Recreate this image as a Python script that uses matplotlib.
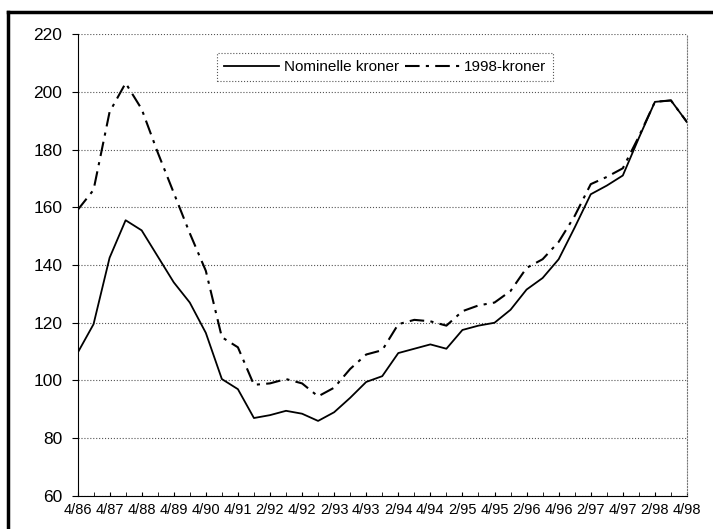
import matplotlib
matplotlib.use("Agg")
import matplotlib.pyplot as plt
from matplotlib.lines import Line2D

plt.rcParams['font.family'] = ['Liberation Sans', 'DejaVu Sans']

# periods: half-yearly up to 4/91, quarterly from 1/92
periods = ["4/86", "2/87", "4/87", "2/88", "4/88", "2/89", "4/89", "2/90", "4/90",
           "2/91", "4/91",
           "1/92", "2/92", "3/92", "4/92", "1/93", "2/93", "3/93", "4/93",
           "1/94", "2/94", "3/94", "4/94", "1/95", "2/95", "3/95", "4/95",
           "1/96", "2/96", "3/96", "4/96", "1/97", "2/97", "3/97", "4/97",
           "1/98", "2/98", "3/98", "4/98"]

nominelle = [109.5, 119.5, 142.5, 155.5, 152, 143, 134, 127, 116.5, 100.5, 97,
             87, 88, 89.5, 88.5, 86, 89, 94, 99.5, 101.5, 109.5, 111, 112.5, 111,
             117.5, 119, 120, 124.5, 131.5, 135.5, 142, 153, 164.5, 167.5, 171,
             184, 196.5, 197, 189.5]

kroner98 = [159, 166, 193, 203, 194, 179, 165, 151, 138, 115, 111.5,
            98.5, 99, 100.5, 99, 94.5, 97.5, 104, 109, 110.5, 119.5, 121, 120.5, 119,
            124, 126, 127, 131, 139, 142, 148, 157, 168, 170.5, 173.5,
            184.5, 196.5, 197, 189.5]

labels = ["Nominelle kroner", "1998-kroner"]

fig = plt.figure(figsize=(7.13, 5.29), dpi=100)
ax = fig.add_axes([0.1087, 0.0624, 0.8548, 0.8733])

x = list(range(len(periods)))
ax.plot(x, nominelle, color="black", lw=1.3, label=labels[0])
ax.plot(x, kroner98, color="black", lw=1.5, linestyle=(0, (7, 3, 1.5, 3)), label=labels[1])

ax.set_xlim(0, len(periods) - 1)
ax.set_ylim(60, 220)
ax.set_yticks(range(60, 221, 20))
ax.tick_params(axis="y", labelsize=12.5, length=4, direction="out", pad=7)

major = x[::2]
ax.set_xticks(major)
ax.set_xticklabels([periods[i] for i in major], fontsize=10.5)
ax.set_xticks(x, minor=True)
ax.tick_params(axis="x", which="both", length=3, direction="in", pad=5)

ax.grid(axis="y", color="#555555", linestyle=":", lw=0.8)
ax.spines["top"].set_visible(False)
ax.spines["right"].set_linestyle(":")
ax.spines["right"].set_color("#777777")
ax.spines["right"].set_linewidth(0.8)

leg = ax.legend(loc="upper center", bbox_to_anchor=(0.505, 0.975), ncol=2,
                fontsize=11, handlelength=3.6, handletextpad=0.3,
                columnspacing=0.4, borderpad=0.45, fancybox=False,
                framealpha=1, edgecolor="#555555")
leg.get_frame().set_linestyle(":")
leg.get_frame().set_linewidth(0.8)

# outer frame of the scanned figure
fig.add_artist(Line2D([0.0112, 0.0112], [0.0, 0.9773], transform=fig.transFigure,
                      color="black", lw=2.5))
fig.add_artist(Line2D([0.0112, 1.0], [0.9773, 0.9773], transform=fig.transFigure,
                      color="black", lw=2.5))

fig.savefig("out.png", dpi=100)
